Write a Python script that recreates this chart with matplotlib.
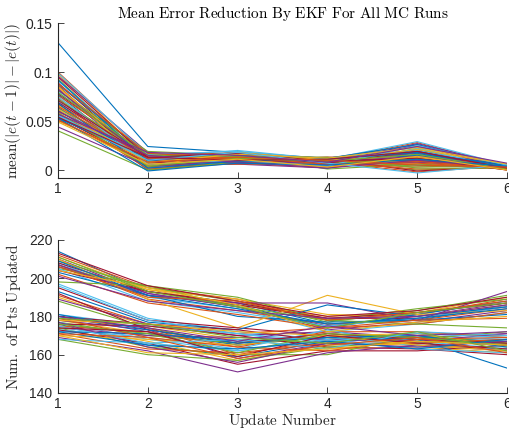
import numpy as np
import matplotlib
matplotlib.use("Agg")
import matplotlib.pyplot as plt

# update index
updates = [1, 2, 3, 4, 5, 6]

# mean error reduction per MC run (one row per run)
err_reduction = [
    [0.130, 0.024, 0.018, 0.012, 0.020, 0.003],
    [0.100, 0.015, 0.012, 0.010, 0.028, 0.004],
    [0.098, 0.012, 0.016, 0.008, 0.025, 0.002],
    [0.096, 0.018, 0.010, 0.013, 0.015, 0.005],
    [0.093, 0.010, 0.014, 0.006, 0.022, 0.001],
    [0.091, 0.014, 0.020, 0.011, 0.010, 0.006],
    [0.089, 0.008, 0.009, 0.004, 0.018, 0.003],
    [0.087, 0.016, 0.013, 0.009, 0.005, 0.002],
    [0.086, 0.006, 0.017, 0.012, 0.024, 0.004],
    [0.084, 0.012, 0.008, 0.002, 0.012, 0.001],
    [0.083, 0.003, 0.011, 0.007, 0.027, 0.005],
    [0.081, 0.019, 0.015, 0.010, 0.000, 0.003],
    [0.080, 0.009, 0.006, 0.005, 0.016, 0.002],
    [0.078, 0.013, 0.012, 0.013, 0.008, 0.006],
    [0.077, 0.005, 0.019, 0.003, 0.021, 0.000],
    [0.076, 0.017, 0.009, 0.008, -0.002, 0.004],
    [0.074, 0.011, 0.014, 0.011, 0.013, 0.002],
    [0.073, 0.002, 0.007, 0.006, 0.019, 0.005],
    [0.072, 0.015, 0.016, 0.001, 0.006, 0.003],
    [0.070, 0.007, 0.010, 0.012, 0.023, 0.001],
    [0.069, 0.012, 0.013, 0.004, 0.011, 0.004],
    [0.068, 0.000, 0.008, 0.009, 0.017, 0.002],
    [0.067, 0.014, 0.018, 0.007, 0.003, 0.006],
    [0.066, 0.008, 0.011, 0.013, 0.014, 0.003],
    [0.064, 0.004, 0.006, 0.002, 0.026, 0.001],
    [0.063, 0.016, 0.012, 0.010, 0.009, 0.005],
    [0.062, 0.010, 0.015, 0.005, 0.020, 0.002],
    [0.061, 0.006, 0.009, 0.011, -0.001, 0.004],
    [0.060, 0.013, 0.017, 0.008, 0.015, 0.003],
    [0.059, 0.001, 0.007, 0.003, 0.012, 0.000],
    [0.058, 0.011, 0.013, 0.012, 0.007, 0.005],
    [0.057, 0.009, 0.010, 0.006, 0.018, 0.002],
    [0.056, 0.003, 0.014, 0.009, 0.004, 0.004],
    [0.055, 0.014, 0.008, 0.004, 0.022, 0.001],
    [0.054, 0.007, 0.011, 0.010, 0.010, 0.003],
    [0.053, 0.012, 0.016, 0.002, 0.016, 0.006],
    [0.052, 0.005, 0.006, 0.008, 0.001, 0.002],
    [0.050, 0.010, 0.012, 0.011, 0.013, 0.004],
    [0.044, 0.004, 0.009, 0.005, 0.008, 0.003],
    [0.040, 0.000, 0.008, 0.007, 0.011, 0.001],
    [0.099, 0.016, 0.019, 0.011, 0.029, 0.005],
    [0.095, 0.013, 0.011, 0.007, 0.019, 0.002],
    [0.092, 0.009, 0.015, 0.012, 0.026, 0.004],
    [0.088, 0.017, 0.012, 0.003, 0.009, 0.001],
    [0.085, 0.004, 0.018, 0.010, 0.021, 0.006],
    [0.082, 0.011, 0.007, 0.008, 0.014, 0.003],
    [0.079, 0.015, 0.014, 0.013, 0.002, 0.002],
    [0.075, 0.006, 0.010, 0.004, 0.025, 0.005],
    [0.071, 0.013, 0.017, 0.009, 0.012, 0.000],
    [0.068, 0.002, 0.009, 0.011, 0.018, 0.004],
    [0.065, 0.012, 0.013, 0.006, 0.007, 0.002],
    [0.062, 0.008, 0.016, 0.012, 0.023, 0.006],
    [0.060, 0.015, 0.008, 0.002, 0.010, 0.003],
    [0.058, 0.004, 0.012, 0.009, 0.016, 0.001],
    [0.056, 0.010, 0.018, 0.007, -0.003, 0.005],
    [0.054, 0.013, 0.010, 0.011, 0.019, 0.002],
    [0.053, -0.001, 0.007, 0.005, 0.011, 0.004],
    [0.051, 0.008, 0.013, 0.010, 0.005, 0.003],
    [0.049, 0.006, 0.011, 0.003, 0.014, 0.000],
    [0.057, 0.018, 0.015, 0.008, 0.024, 0.007],
]

# number of points updated per MC run
pts_updated = [
    [214, 193, 187, 176, 178, 186],
    [212, 195, 189, 178, 181, 189],
    [211, 194, 186, 180, 182, 190],
    [210, 192, 185, 175, 180, 187],
    [209, 195, 188, 177, 183, 191],
    [208, 190, 184, 172, 176, 182],
    [208, 193, 187, 179, 179, 185],
    [207, 191, 186, 174, 181, 188],
    [207, 189, 183, 176, 178, 184],
    [206, 194, 189, 181, 180, 186],
    [206, 192, 185, 173, 177, 183],
    [205, 196, 190, 178, 184, 189],
    [205, 188, 182, 175, 179, 185],
    [204, 193, 186, 179, 182, 187],
    [203, 191, 180, 177, 178, 181],
    [202, 187, 181, 174, 176, 182],
    [210, 189, 174, 191, 181, 183],
    [207, 191, 187, 187, 178, 193],
    [198, 196, 185, 178, 176, 174],
    [197, 179, 172, 168, 170, 168],
    [195, 178, 174, 170, 167, 165],
    [193, 177, 173, 186, 180, 185],
    [191, 176, 171, 174, 178, 179],
    [190, 175, 168, 166, 165, 163],
    [189, 176, 170, 172, 169, 171],
    [188, 174, 165, 169, 166, 167],
    [181, 175, 171, 165, 167, 163],
    [180, 176, 173, 167, 169, 166],
    [180, 172, 165, 170, 166, 168],
    [179, 174, 160, 168, 171, 170],
    [178, 171, 168, 163, 164, 161],
    [178, 173, 158, 166, 170, 165],
    [177, 170, 166, 171, 168, 172],
    [177, 168, 162, 169, 165, 164],
    [176, 175, 170, 164, 163, 160],
    [176, 165, 159, 167, 169, 167],
    [175, 172, 164, 172, 172, 169],
    [175, 167, 157, 165, 166, 162],
    [174, 170, 169, 168, 167, 171],
    [174, 164, 160, 160, 170, 166],
    [173, 169, 163, 173, 164, 163],
    [173, 166, 155, 162, 162, 165],
    [172, 171, 167, 169, 168, 153],
    [171, 163, 161, 166, 166, 168],
    [170, 168, 165, 170, 171, 164],
    [169, 162, 151, 161, 165, 162],
    [168, 160, 157, 164, 167, 166],
    [168, 166, 162, 168, 163, 161],
    [213, 196, 188, 180, 183, 190],
    [209, 191, 184, 176, 179, 184],
    [206, 190, 188, 178, 182, 188],
    [204, 195, 186, 172, 177, 180],
    [201, 188, 183, 179, 180, 186],
    [211, 193, 185, 174, 182, 187],
    [196, 178, 171, 167, 171, 169],
    [192, 173, 166, 171, 168, 166],
    [181, 173, 166, 169, 170, 164],
    [179, 169, 164, 162, 168, 169],
    [178, 176, 172, 170, 165, 162],
    [177, 164, 156, 166, 164, 167],
    [176, 171, 161, 171, 169, 165],
    [175, 166, 168, 163, 172, 170],
    [174, 172, 159, 170, 166, 163],
    [172, 165, 163, 167, 163, 168],
    [171, 169, 158, 165, 169, 161],
    [170, 161, 160, 163, 167, 165],
    [180, 174, 167, 175, 170, 172],
    [179, 176, 169, 166, 172, 162],
]

# MATLAB default color order
matlab_colors = ['#0072BD', '#D95319', '#EDB120', '#7E2F8E',
                 '#77AC30', '#4DBEEE', '#A2142F']

plt.rcParams['mathtext.fontset'] = 'cm'
plt.rcParams['font.family'] = ['Liberation Sans', 'DejaVu Sans']
axis_col = '#262626'

fig = plt.figure(figsize=(5.09, 4.29), dpi=100)
ax1 = fig.add_axes([0.114, 0.585, 0.882, 0.361])
ax2 = fig.add_axes([0.114, 0.084, 0.882, 0.357])

def style(ax):
    for s in ['top', 'right']:
        ax.spines[s].set_visible(False)
    for s in ['left', 'bottom']:
        ax.spines[s].set_color(axis_col)
        ax.spines[s].set_linewidth(0.8)
    ax.tick_params(direction='in', length=4, width=0.6, colors=axis_col,
                   labelsize=10, pad=4)
    ax.tick_params(axis='x', pad=3)
    ax.set_xlim(1, 6)
    ax.set_xticks(updates)

for i, run in enumerate(err_reduction):
    ax1.plot(updates, run, color=matlab_colors[i % 7], lw=0.8)
style(ax1)
ax1.set_ylim(-0.0082, 0.15)
ax1.set_yticks([0, 0.05, 0.1, 0.15])
ax1.set_yticklabels(['0', '0.05', '0.1', '0.15'])
ax1.set_ylabel(r'$\mathrm{mean}(|e(t-1)|-|e(t)|)$', fontsize=11, color=axis_col, labelpad=2)
ax1.set_title(r'$\mathrm{Mean\ Error\ Reduction\ By\ EKF\ For\ All\ MC\ Runs}$',
              fontsize=11, color='black', pad=4)

for i, run in enumerate(pts_updated):
    ax2.plot(updates, run, color=matlab_colors[i % 7], lw=0.8)
style(ax2)
ax2.set_ylim(140, 220)
ax2.set_yticks([140, 160, 180, 200, 220])
ax2.set_ylabel(r'$\mathrm{Num.\ of\ Pts\ Updated}$', fontsize=11, color=axis_col, labelpad=4)
ax2.set_xlabel(r'$\mathrm{Update\ Number}$', fontsize=11, color=axis_col, labelpad=0)

fig.savefig('out.png', dpi=100)
